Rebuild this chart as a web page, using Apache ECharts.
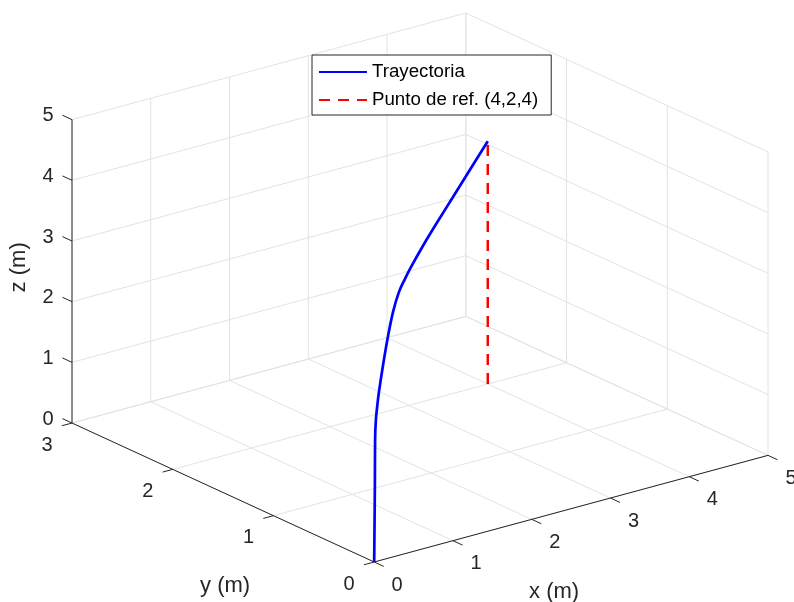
<!DOCTYPE html>
<html><head><meta charset="utf-8">
<script src="https://cdn.jsdelivr.net/npm/echarts@6/dist/echarts.min.js"></script>
<style>html,body{margin:0;padding:0;background:#fff}#chart{width:794px;height:602px}</style>
</head><body><div id="chart"></div>
<script>
// ---- data ----
const xTicks = [0, 1, 2, 3, 4, 5];
const yTicks = [0, 1, 2, 3];
const zTicks = [0, 1, 2, 3, 4, 5];
const xLim = [0, 5], yLim = [0, 3], zLim = [0, 5];
const trajX = [0, 0.014, 0.025, 0.032, 0.06, 0.11, 0.16, 0.30, 0.48, 0.66, 0.87, 1.08, 1.29, 1.71, 2.17, 2.77, 3.23, 4.0];
const trajY = [0, 0.007, 0.0125, 0.016, 0.03, 0.055, 0.08, 0.15, 0.24, 0.33, 0.435, 0.54, 0.645, 0.855, 1.085, 1.385, 1.615, 2.0];
const trajZ = [0, 0.68, 1.28, 1.99, 2.30, 2.50, 2.66, 2.99, 3.35, 3.63, 3.81, 3.87, 3.91, 3.95, 3.97, 3.98, 3.99, 4.0];
const refPoint = [4, 2, 4];
const seriesNames = ['Trayectoria', 'Punto de ref. (4,2,4)'];
const axisNames = ['x (m)', 'y (m)', 'z (m)'];
const viewAz = -37.5, viewEl = 30;

// ---- projection (orthographic, MATLAB-like view) ----
function proj(x, y, z) {
  const a = viewAz * Math.PI / 180, e = viewEl * Math.PI / 180;
  const nx = (x - xLim[0]) / (xLim[1] - xLim[0]);
  const ny = (y - yLim[0]) / (yLim[1] - yLim[0]);
  const nz = (z - zLim[0]) / (zLim[1] - zLim[0]);
  const u = Math.cos(a) * nx + Math.sin(a) * ny;
  const v = -Math.sin(a) * Math.sin(e) * nx + Math.cos(a) * Math.sin(e) * ny + Math.cos(e) * nz;
  return [u, v];
}
const corners = [];
[xLim[0], xLim[1]].forEach(x => [yLim[0], yLim[1]].forEach(y => [zLim[0], zLim[1]].forEach(z => corners.push(proj(x, y, z)))));
const uMin = Math.min(...corners.map(c => c[0])), uMax = Math.max(...corners.map(c => c[0]));
const vMin = Math.min(...corners.map(c => c[1])), vMax = Math.max(...corners.map(c => c[1]));

// ---- grid segments on back walls and floor ----
const gridSegs = [];
function seg(p, q) { const a = proj(...p), b = proj(...q); gridSegs.push([a[0], a[1], b[0], b[1]]); }
xTicks.forEach(x => { seg([x, yLim[0], zLim[0]], [x, yLim[1], zLim[0]]); seg([x, yLim[1], zLim[0]], [x, yLim[1], zLim[1]]); });
yTicks.forEach(y => { seg([xLim[0], y, zLim[0]], [xLim[1], y, zLim[0]]); seg([xLim[1], y, zLim[0]], [xLim[1], y, zLim[1]]); });
zTicks.forEach(z => { seg([xLim[0], yLim[1], z], [xLim[1], yLim[1], z]); seg([xLim[1], yLim[0], z], [xLim[1], yLim[1], z]); });

// ---- axis lines ----
const axisSegs = [];
function aseg(p, q) { const a = proj(...p), b = proj(...q); axisSegs.push([a[0], a[1], b[0], b[1]]); }
aseg([xLim[0], yLim[0], zLim[0]], [xLim[1], yLim[0], zLim[0]]);
aseg([xLim[0], yLim[0], zLim[0]], [xLim[0], yLim[1], zLim[0]]);
aseg([xLim[0], yLim[1], zLim[0]], [xLim[0], yLim[1], zLim[1]]);

// ---- ticks ----
const tickItems = [];
xTicks.forEach(x => { const a = proj(x, yLim[0], zLim[0]), b = proj(x, yLim[0] - 0.1, zLim[0]); tickItems.push({a, b, text: String(x), off: [23, 23]}); });
yTicks.forEach(y => { const a = proj(xLim[0], y, zLim[0]), b = proj(xLim[0] - 0.1, y, zLim[0]); tickItems.push({a, b, text: String(y), off: [-25, 22]}); });
zTicks.forEach(z => { const a = proj(xLim[0], yLim[1], z), b = proj(xLim[0], yLim[1] + 0.1, z); tickItems.push({a, b, text: String(z), off: [-24, -4]}); });

// ---- axis name anchors ----
const nameItems = [
  {p: proj((xLim[0] + xLim[1]) / 2, yLim[0], zLim[0]), text: axisNames[0], off: [-17, 83], rot: 0},
  {p: proj(xLim[0], (yLim[0] + yLim[1]) / 2, zLim[0]), text: axisNames[1], off: [2, 93], rot: 0},
  {p: proj(xLim[0], yLim[1], (zLim[0] + zLim[1]) / 2), text: axisNames[2], off: [-53, -4], rot: Math.PI / 2}
];

const trajData = trajX.map((x, i) => proj(x, trajY[i], trajZ[i]));
const refData = [proj(refPoint[0], refPoint[1], zLim[0]), proj(refPoint[0], refPoint[1], refPoint[2])];

const FONT = 'Liberation Sans, Arial, sans-serif';
const chart = echarts.init(document.getElementById('chart'), null, {renderer: 'canvas'});
function segRender(color, width) {
  return function (params, api) {
    const p1 = api.coord([api.value(0), api.value(1)]);
    const p2 = api.coord([api.value(2), api.value(3)]);
    return {type: 'line', shape: {x1: p1[0], y1: p1[1], x2: p2[0], y2: p2[1]}, style: {stroke: color, lineWidth: width}};
  };
}
chart.setOption({
  animation: false,
  backgroundColor: '#fff',
  grid: {left: 72, right: 26, top: 13, bottom: 40},
  xAxis: {type: 'value', min: uMin, max: uMax, show: false},
  yAxis: {type: 'value', min: vMin, max: vMax, show: false},
  legend: {
    data: seriesNames, orient: 'vertical', left: 312, top: 55,
    backgroundColor: '#fff', borderColor: '#262626', borderWidth: 1, borderRadius: 0,
    padding: [7, 13, 5, 6], itemWidth: 48, itemHeight: 20, itemGap: 8, selectedMode: false,
    itemStyle: {opacity: 0, color: 'transparent', borderColor: 'transparent'},
    textStyle: {fontSize: 18.7, fontFamily: FONT, color: '#000', lineHeight: 20}
  },
  series: [
    {type: 'custom', name: 'grid', silent: true, clip: false, z: 1, data: gridSegs, renderItem: segRender('#e3e3e3', 1)},
    {type: 'custom', name: 'axes', silent: true, clip: false, z: 2, data: axisSegs, renderItem: segRender('#262626', 1)},
    {type: 'custom', name: 'ticks', silent: true, clip: false, z: 2,
      data: tickItems.map(t => t.a),
      renderItem: function (params, api) {
        const t = tickItems[params.dataIndex];
        const p1 = api.coord(t.a), p2 = api.coord(t.b);
        const dx = p2[0] - p1[0], dy = p2[1] - p1[1], L = Math.hypot(dx, dy);
        const len = 10.5;
        return {type: 'group', children: [
          {type: 'line', shape: {x1: p1[0], y1: p1[1], x2: p1[0] + dx / L * len, y2: p1[1] + dy / L * len}, style: {stroke: '#262626', lineWidth: 1}},
          {type: 'text', style: {text: t.text, x: p1[0] + t.off[0], y: p1[1] + t.off[1], fill: '#262626', fontSize: 20, fontFamily: FONT, align: 'center', verticalAlign: 'middle'}}
        ]};
      }},
    {type: 'custom', name: 'names', silent: true, clip: false, z: 2,
      data: nameItems.map(n => n.p),
      renderItem: function (params, api) {
        const n = nameItems[params.dataIndex];
        const p = api.coord(n.p);
        return {type: 'text', x: p[0] + n.off[0], y: p[1] + n.off[1], rotation: n.rot,
          style: {text: n.text, x: 0, y: 0, fill: '#262626', fontSize: 22, fontFamily: FONT, align: 'center', verticalAlign: 'middle'}};
      }},
    {type: 'line', name: seriesNames[0], data: trajData, showSymbol: false, symbol: 'none', clip: false, z: 5, smooth: 0.35,
      lineStyle: {color: '#0000ff', width: 2.7}, itemStyle: {color: '#0000ff'}},
    {type: 'line', name: seriesNames[1], data: refData, showSymbol: false, symbol: 'none', clip: false, z: 4,
      lineStyle: {color: '#ff0000', width: 2.5, type: [11, 8]}, itemStyle: {color: '#ff0000'}}
  ]
});
</script></body></html>
